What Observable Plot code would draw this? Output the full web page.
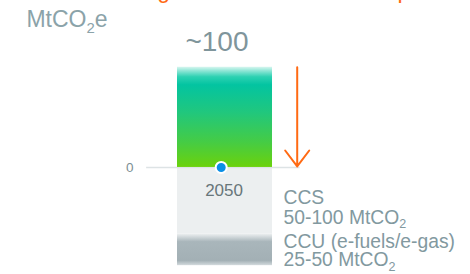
<!DOCTYPE html>
<html>
<head>
<meta charset="utf-8">
<script src="https://cdn.jsdelivr.net/npm/d3@7"></script>
<script src="https://cdn.jsdelivr.net/npm/@observablehq/plot@0.6"></script>
<style>
  html, body { margin: 0; padding: 0; background: #fff; overflow: hidden; }
  #wrap { position: relative; width: 470px; height: 274px; overflow: hidden; font-family: "Liberation Sans", Arial, sans-serif; }
  #headline { position: absolute; left: 60px; top: -21.5px; font-size: 23px; line-height: 1; color: #ff6a13; white-space: nowrap; }
  #chart { position: absolute; left: 0; top: 0; }
</style>
</head>
<body>
<div id="wrap">
  <div id="headline">Remaining emissions must be captured by 2050</div>
  <div id="chart"></div>
</div>
<script>
// ---- data ----
const years = ["2050"];
const netEmissions = [100];          // positive bar (MtCO2e)
const netLabel = ["~100"];
const ccsBand = [0, -68];             // drawn extent of CCS block
const ccuBand = [-68, -100];          // drawn extent of CCU block
const captureLabels = ["CCS", "50-100 MtCO₂", "CCU (e-fuels/e-gas)", "25-50 MtCO₂"];
const captureLabelY = [-30.6, -51.0, -75.4, -94.0];
const unitLabel = ["MtCO₂e"];
const zeroTick = [0];

// ---- derived tables ----
const posBar = years.map((yr, i) => ({x1: 0, x2: 1, y1: 0, y2: netEmissions[i]}));
const ccsBar = [{x1: 0, x2: 1, y1: ccsBand[0], y2: ccsBand[1]}];
const ccuBar = [{x1: 0, x2: 1, y1: ccuBand[0], y2: ccuBand[1]}];
const labelsTbl = captureLabels.map((t, i) => ({t, y: captureLabelY[i]}));
const arrowTbl = [{x: 1.26, y1: netEmissions[0] + 2, y2: 1}];

function gradients() {
  return () => {
    const defs = d3.create("svg:defs");
    const g1 = defs.append("linearGradient").attr("id", "posGrad")
      .attr("x1", 0).attr("y1", 0).attr("x2", 0).attr("y2", 1);
    [[0, "#d8f6f0"], [0.04, "#8fe6d6"], [0.10, "#2dd1b2"], [0.18, "#03c4a1"],
     [0.45, "#20c77e"], [0.75, "#45cc45"], [1, "#6bd20c"]]
      .forEach(([o, c]) => g1.append("stop").attr("offset", o).attr("stop-color", c));
    const g2 = defs.append("linearGradient").attr("id", "ccuGrad")
      .attr("x1", 0).attr("y1", 0).attr("x2", 0).attr("y2", 1);
    [[0, "#eceff0"], [0.25, "#a9b6bb"], [0.85, "#a3b0b5"], [1, "#d3dadd"]]
      .forEach(([o, c]) => g2.append("stop").attr("offset", o).attr("stop-color", c));
    return defs.node();
  };
}

const textFont = "Liberation Sans, Arial, sans-serif";

const chart = Plot.plot({
  width: 470,
  height: 274,
  margin: 0,
  style: {background: "transparent", fontFamily: textFont, overflow: "visible"},
  x: {domain: [-1.863, 3.084], range: [0, 470], axis: null},
  y: {domain: [-109, 170], range: [274, 0], axis: null},
  marks: [
    gradients(),
    Plot.rectY(ccsBar, {x1: "x1", x2: "x2", y1: "y1", y2: "y2", fill: "#eceff0"}),
    Plot.rectY(ccuBar, {x1: "x1", x2: "x2", y1: "y1", y2: "y2", fill: "url(#ccuGrad)"}),
    Plot.ruleY(zeroTick, {x1: -0.325, x2: 1.29, stroke: "#dde3e5", strokeWidth: 1.5}),
    Plot.rectY(posBar, {x1: "x1", x2: "x2", y1: "y1", y2: "y2", fill: "url(#posGrad)", insetTop: -2}),
    Plot.arrow(arrowTbl, {x1: "x", x2: "x", y1: "y1", y2: "y2", stroke: "#ff6a13", strokeWidth: 2, headLength: 15, headAngle: 74}),
    Plot.dot([{x: 0.46, y: 0}], {x: "x", y: "y", r: 5.5, fill: "#0a8fe6", stroke: "white", strokeWidth: 2}),
    Plot.text(zeroTick, {x: -0.463, y: d => d, text: d => String(d), textAnchor: "end", fontSize: 13.5, fill: "#7d8f94"}),
    Plot.text(years, {x: 0.49, y: -23.4, text: d => d, fontSize: 17, fill: "#68767a"}),
    Plot.text(netLabel, {x: 0.415, y: 127.3, text: d => d, fontSize: 28, fill: "#7f959b"}),
    Plot.text(unitLabel, {x: -1.59, y: 150.7, text: d => d, textAnchor: "start", fontSize: 23, fill: "#8ba3a9"}),
    Plot.text(labelsTbl, {x: 1.116, y: "y", text: "t", textAnchor: "start", fontSize: 19.3, fill: "#82999f"})
  ]
});

// render chemical subscripts as real SVG subscripts
d3.select(chart).selectAll("text").each(function () {
  const el = this;
  const nodes = el.querySelectorAll("tspan").length ? Array.from(el.querySelectorAll("tspan")) : [el];
  nodes.forEach(node => {
    const s = node.textContent;
    if (!s.includes("₂")) return;
    const parts = s.split("₂");
    node.textContent = "";
    parts.forEach((p, i) => {
      if (i > 0) {
        const sub = document.createElementNS("http://www.w3.org/2000/svg", "tspan");
        sub.setAttribute("font-size", "0.65em");
        sub.setAttribute("dy", "0.38em");
        sub.textContent = "2";
        node.appendChild(sub);
      }
      if (p.length) {
        const t = document.createElementNS("http://www.w3.org/2000/svg", "tspan");
        if (i > 0) t.setAttribute("dy", "-0.247em");
        t.textContent = p;
        node.appendChild(t);
      }
    });
  });
});

document.getElementById("chart").appendChild(chart);
</script>
</body>
</html>
